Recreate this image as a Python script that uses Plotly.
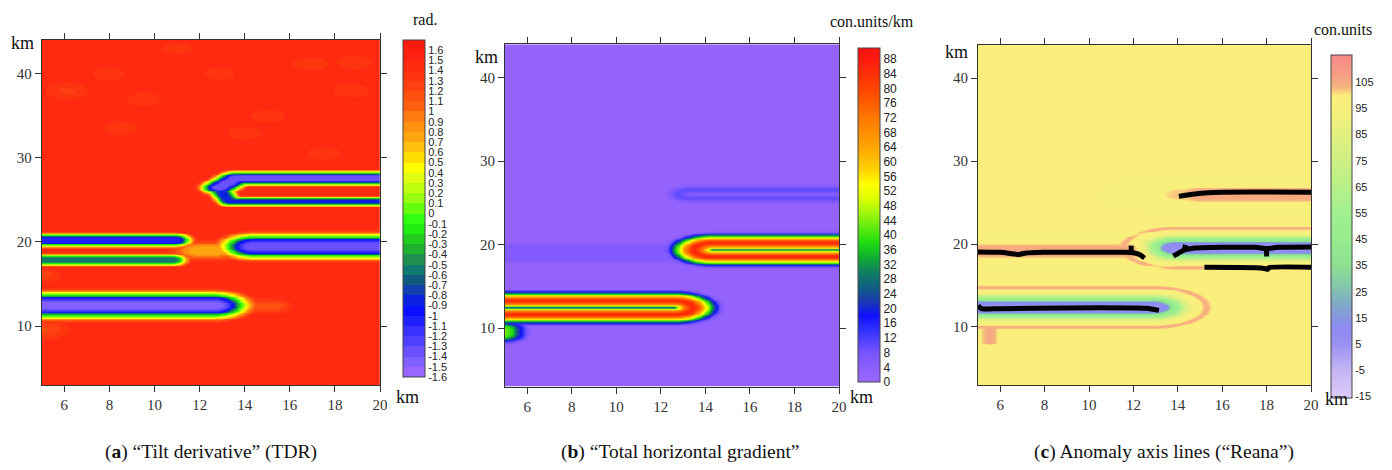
import numpy as np
import plotly.graph_objects as go

W, H = 1392, 470

# ---------------- grid & axes ----------------
X_KM = np.round(np.arange(5.0, 20.0001, 0.1), 2)
Y_KM = np.round(np.arange(3.0, 44.0001, 0.1), 2)
X_TICKS = [6, 8, 10, 12, 14, 16, 18, 20]
Y_TICKS = [10, 20, 30, 40]

# ---------------- panel (a): tilt derivative ----------------
TDR_BG = 1.45
TDR_SHAPE_S = [0, 0.25, 0.4, 0.55, 0.71, 0.86, 1.0]
TDR_SHAPE_F = [1, 0.98, 0.85, 0.6, 0.36, 0.15, 0]
TDR_BAND_X = [[4.0, 12.6], [4.0, 10.85], [4.0, 10.75], [14.4, 21.0],
              [12.85, 13.6, 21.0], [12.85, 13.3, 21.0], [11.9, 12.7], [14.2, 15.2]]
TDR_BAND_Y = [[12.5, 12.5], [20.25, 20.25], [17.9, 17.9], [19.5, 19.5],
              [26.5, 27.6, 27.6], [26.3, 24.85, 24.85], [19.0, 19.0], [12.4, 12.4]]
TDR_BAND_CORE = [-1.45, -1.1, -0.6, -1.35, -1.35, -0.85, 0.75, 1.15]
TDR_BAND_WIDTH = [2.05, 1.05, 0.92, 1.95, 1.1, 0.75, 1.4, 1.1]
TDR_SPOT_X = [6.1, 7.95, 11.0, 12.85, 16.9, 18.85, 18.7, 5.0, 5.0, 8.5, 15.0, 17.5, 9.5, 14.0]
TDR_SPOT_Y = [38.0, 40.0, 43.0, 40.0, 41.2, 41.4, 38.0, 16.1, 9.6, 33.5, 35.0, 30.5, 37.0, 33.0]
TDR_SPOT_CORE = [1.25, 1.3, 1.3, 1.3, 1.3, 1.3, 1.33, 1.2, 1.15, 1.36, 1.36, 1.36, 1.36, 1.36]
TDR_SPOT_WIDTH = [1.2, 1.0, 0.9, 0.9, 1.1, 1.1, 1.2, 1.0, 1.4, 1.4, 1.4, 1.4, 1.4, 1.4]
TDR_CB_TICKS = [1.6, 1.5, 1.4, 1.3, 1.2, 1.1, 1, 0.9, 0.8, 0.7, 0.6, 0.5, 0.4, 0.3, 0.2, 0.1, 0,
                -0.1, -0.2, -0.3, -0.4, -0.5, -0.6, -0.7, -0.8, -0.9, -1, -1.1, -1.2, -1.3,
                -1.4, -1.5, -1.6]
TDR_ZMIN, TDR_ZMAX = -1.6, 1.7
TDR_COLORS = ["#9966ff", "#8060ff", "#6a50ff", "#5040ff", "#3a30ff", "#2020ff", "#0a10ff",
              "#0a20e0", "#1040b0", "#105a80", "#107a70", "#209050", "#20b030", "#20cc20",
              "#20ee10", "#33ff10", "#66ff10", "#99ff10", "#c0ff10", "#e0ff10", "#ffff00",
              "#ffdd00", "#ffc010", "#ffa510", "#ff9010", "#ff7a10", "#ff6010", "#ff5010",
              "#ff4010", "#ff3510", "#ff2a10", "#ff2010", "#ff1a10"]

# ---------------- panel (b): total horizontal gradient ----------------
THG_BG = 1.5
THG_RING_D = [0, 0.1, 0.25, 0.45, 0.8, 1.05, 1.25, 1.4, 1.6, 1.75, 1.9, 2.05, 2.3]
THG_RING_V = [22, 40, 56, 72, 87, 80, 66, 55, 40, 28, 17, 8, 1.5]
THG_RING_X = [[4.0, 12.6], [14.3, 21.0]]
THG_RING_Y = [[12.5, 12.5], [19.42, 19.42]]
THG_BLOB_D = [0, 0.4, 0.7, 1.0, 1.3]
THG_BLOB_V = [45, 38, 22, 10, 1.5]
THG_BLOB_X = [[4.9, 4.9]]
THG_BLOB_Y = [[9.3, 9.9]]
THG_FAINT_D = [0, 0.9, 1.3]
THG_FAINT_V = [6, 6, 1.5]
THG_FAINT_X = [[4.0, 12.3]]
THG_FAINT_Y = [[19.05, 19.05]]
THG_FRING_D = [0, 0.3, 0.6, 0.9, 1.2]
THG_FRING_V = [4, 9, 10, 6, 1.5]
THG_FRING_X = [[13.3, 21.0]]
THG_FRING_Y = [[26.1, 26.1]]
THG_ZMIN, THG_ZMAX = 0, 91
THG_CB_TICKS = list(range(0, 89, 4))
THG_STOPS = [0, 4, 8, 14, 18, 22, 26, 30, 34, 38, 44, 50, 54, 58, 64, 72, 80, 88, 91]
THG_COLORS = ["#9966ff", "#8c5ffd", "#7755ff", "#3333ff", "#1010ff", "#1a3ab0", "#106080",
              "#108060", "#10b030", "#20dd10", "#80f010", "#ddff00", "#ffff00", "#ffd000",
              "#ffa500", "#ff7700", "#ff4400", "#ff1a10", "#ff1010"]

# ---------------- panel (c): anomaly axis lines ----------------
REANA_BG = 97.5
REANA_RING_D = [0, 0.6, 0.8, 1.1, 1.4, 1.7, 1.95, 2.1, 2.25, 2.4, 2.55, 2.75]
REANA_RING_V = [-92, -85, -60, -45, -20, -6, -1, 0, 5, 7, 4, 0]
REANA_RING_X = [[4.0, 12.9], [13.9, 21.0]]
REANA_RING_Y = [[12.4, 12.4], [19.55, 19.55]]
REANA_SALMON_D = [0, 0.5, 0.8, 1.0, 1.6, 2.0, 2.4]
REANA_SALMON_V = [8, 7.5, 4, 0, 0, -3, 0]
REANA_SALMON_X = [[4.0, 12.5], [14.0, 21.0]]
REANA_SALMON_Y = [[19.2, 19.2], [26.0, 26.0]]
REANA_PINK_D = [0, 0.25, 0.5]
REANA_PINK_V = [9, 5, 0]
REANA_PINK_X = [[12.3, 12.7], [5.5, 5.5]]
REANA_PINK_Y = [[19.0, 19.0], [8.2, 9.8]]
REANA_PALE_D = [0, 1.2, 1.8]
REANA_PALE_V = [-4, -3, 0]
REANA_PALE_X = [[12.2, 13.2]]
REANA_PALE_Y = [[26.0, 26.0]]
REANA_ZMIN, REANA_ZMAX = -15.6, 115.4
REANA_CB_TICKS = [-15, -5, 5, 15, 25, 35, 45, 55, 65, 75, 85, 95, 105]
REANA_STOPS = [-15.6, -5, 5, 12, 20, 28, 35, 45, 55, 65, 75, 85, 95, 100, 103, 108, 115.4]
REANA_COLORS = ["#dccdf8", "#c4b4f4", "#9a90f2", "#8c8cf0", "#80a8c8", "#84cca8", "#8de092",
                "#96ec8c", "#a0f090", "#b8f088", "#cdef84", "#e2f080", "#f8f07c", "#fbed7c",
                "#f7b47e", "#f59c84", "#f58a88"]

# anomaly axis lines
LINE1_X = [5.0, 5.15, 6.0, 9.0, 12.0, 12.6, 13.15]
LINE1_Y = [12.55, 12.2, 12.2, 12.3, 12.3, 12.25, 12.0]
LINE2_X = [5.0, 6.0, 6.85, 7.1, 8.0, 10.0, 11.5, 12.0, 12.3, 12.5]
LINE2_Y = [19.05, 19.0, 18.75, 18.9, 19.0, 19.0, 19.0, 18.95, 18.7, 18.3]
LINE2T_X = [11.9, 11.9]
LINE2T_Y = [19.0, 19.8]
LINE3_X = [13.8, 14.0, 14.3, 14.7, 16.0, 17.5, 18.0, 18.5, 20.0]
LINE3_Y = [18.55, 18.85, 19.3, 19.5, 19.6, 19.6, 19.45, 19.6, 19.65]
LINE3T1_X = [18.0, 18.0]
LINE3T1_Y = [19.5, 18.5]
LINE3T2_X = [14.3, 14.35]
LINE3T2_Y = [19.3, 19.9]
LINE4_X = [15.2, 17.5, 17.9, 18.05, 18.1, 20.0]
LINE4_Y = [17.2, 17.15, 17.05, 16.95, 17.15, 17.2]
LINE5_X = [14.05, 14.5, 15.2, 16.0, 20.0]
LINE5_Y = [25.75, 25.95, 26.15, 26.25, 26.25]

GX, GY = np.meshgrid(X_KM, Y_KM)


def poly_dist(xs, ys):
    d = np.full(GX.shape, np.inf)
    for i in range(len(xs) - 1):
        ax, ay, bx, by = xs[i], ys[i], xs[i + 1], ys[i + 1]
        vx, vy = bx - ax, by - ay
        L2 = vx * vx + vy * vy
        t = np.clip(((GX - ax) * vx + (GY - ay) * vy) / L2, 0, 1)
        d = np.minimum(d, np.hypot(GX - ax - t * vx, GY - ay - t * vy))
    return d


# field (a)
za = np.full(GX.shape, TDR_BG)
for xs, ys, c, w in zip(TDR_BAND_X, TDR_BAND_Y, TDR_BAND_CORE, TDR_BAND_WIDTH):
    f = np.interp(poly_dist(xs, ys) / w, TDR_SHAPE_S, TDR_SHAPE_F)
    za = np.minimum(za, TDR_BG + (c - TDR_BG) * f)
for sx, sy, c, w in zip(TDR_SPOT_X, TDR_SPOT_Y, TDR_SPOT_CORE, TDR_SPOT_WIDTH):
    d = np.hypot(GX - sx, GY - sy)
    f = np.interp(d / w, [0, 0.5, 1.0], [1, 0.6, 0])
    za = np.minimum(za, TDR_BG + (c - TDR_BG) * f)

# field (b)
zb = np.full(GX.shape, THG_BG)
for D, V, XS, YS in [(THG_RING_D, THG_RING_V, THG_RING_X, THG_RING_Y),
                     (THG_BLOB_D, THG_BLOB_V, THG_BLOB_X, THG_BLOB_Y),
                     (THG_FAINT_D, THG_FAINT_V, THG_FAINT_X, THG_FAINT_Y),
                     (THG_FRING_D, THG_FRING_V, THG_FRING_X, THG_FRING_Y)]:
    for xs, ys in zip(XS, YS):
        zb = np.maximum(zb, np.interp(poly_dist(xs, ys), D, V))

# field (c)
pos = np.zeros(GX.shape)
neg = np.zeros(GX.shape)
for D, V, XS, YS in [(REANA_RING_D, REANA_RING_V, REANA_RING_X, REANA_RING_Y),
                     (REANA_SALMON_D, REANA_SALMON_V, REANA_SALMON_X, REANA_SALMON_Y),
                     (REANA_PINK_D, REANA_PINK_V, REANA_PINK_X, REANA_PINK_Y),
                     (REANA_PALE_D, REANA_PALE_V, REANA_PALE_X, REANA_PALE_Y)]:
    for xs, ys in zip(XS, YS):
        v = np.interp(poly_dist(xs, ys), D, V)
        pos = np.maximum(pos, v)
        neg = np.minimum(neg, v)
zc = REANA_BG + pos + neg


def stepped(colors):
    n = len(colors)
    cs = []
    for i, c in enumerate(colors):
        cs.append([i / n, c])
        cs.append([(i + 1) / n, c])
    return cs


def smooth(stops, colors):
    lo, hi = stops[0], stops[-1]
    return [[(s - lo) / (hi - lo), c] for s, c in zip(stops, colors)]


def X(px):
    return px / W


def Y(py):
    return 1 - py / H


fig = go.Figure()

CB_COMMON = dict(xanchor="left", yanchor="top", lenmode="pixels", thicknessmode="pixels",
                 xpad=0, ypad=0, outlinewidth=1, outlinecolor="#444", ticks="", ticklen=0)

fig.add_trace(go.Heatmap(
    x=X_KM, y=Y_KM, z=np.round(za, 3), zmin=TDR_ZMIN, zmax=TDR_ZMAX, zsmooth="best",
    colorscale=stepped(TDR_COLORS), xaxis="x", yaxis="y", hoverinfo="skip",
    colorbar=dict(x=X(403), y=Y(40), len=337, thickness=22,
                  tickvals=TDR_CB_TICKS, ticktext=["%g" % v for v in TDR_CB_TICKS],
                  tickfont=dict(family="Liberation Sans", size=11, color="#222"), **CB_COMMON)))

fig.add_trace(go.Heatmap(
    x=X_KM, y=Y_KM, z=np.round(zb, 2), zmin=THG_ZMIN, zmax=THG_ZMAX, zsmooth="best",
    colorscale=smooth(THG_STOPS, THG_COLORS), xaxis="x2", yaxis="y2", hoverinfo="skip",
    colorbar=dict(x=X(858), y=Y(48), len=334, thickness=22,
                  tickvals=THG_CB_TICKS, ticktext=[str(v) for v in THG_CB_TICKS],
                  tickfont=dict(family="Liberation Sans", size=12, color="#222"), **CB_COMMON)))

fig.add_trace(go.Heatmap(
    x=X_KM, y=Y_KM, z=np.round(zc, 2), zmin=REANA_ZMIN, zmax=REANA_ZMAX, zsmooth="best",
    colorscale=smooth(REANA_STOPS, REANA_COLORS), xaxis="x3", yaxis="y3", hoverinfo="skip",
    colorbar=dict(x=X(1331), y=Y(55), len=343, thickness=21,
                  tickvals=REANA_CB_TICKS, ticktext=[str(v) for v in REANA_CB_TICKS],
                  tickfont=dict(family="Liberation Sans", size=11, color="#222"), **CB_COMMON)))

for lx, ly in [(LINE1_X, LINE1_Y), (LINE2_X, LINE2_Y), (LINE2T_X, LINE2T_Y),
               (LINE3_X, LINE3_Y), (LINE3T1_X, LINE3T1_Y), (LINE3T2_X, LINE3T2_Y),
               (LINE4_X, LINE4_Y), (LINE5_X, LINE5_Y)]:
    fig.add_trace(go.Scatter(x=lx, y=ly, mode="lines", xaxis="x3", yaxis="y3",
                             line=dict(color="black", width=5, shape="spline", smoothing=0.6),
                             showlegend=False, hoverinfo="skip"))

AX = dict(showgrid=False, zeroline=False, showline=True, linecolor="#333", linewidth=1,
          mirror="ticks", ticks="outside", ticklen=6, tickcolor="#333",
          tickfont=dict(family="Liberation Serif", size=15, color="#333"))

panels = [  # left, right, top, bottom pixels
    (41.8, 380, 40, 385),
    (505, 839, 44.3, 386.7),
    (978, 1311, 45, 385),
]
layout = dict(width=W, height=H, margin=dict(l=0, r=0, t=0, b=0, autoexpand=False),
              paper_bgcolor="white", plot_bgcolor="white", showlegend=False)
for i, (l, r, t, b) in enumerate(panels):
    sx = "" if i == 0 else str(i + 1)
    layout["xaxis" + sx] = dict(domain=[X(l), X(r)], range=[5, 20], tickvals=X_TICKS,
                                anchor="y" + sx, **AX)
    layout["yaxis" + sx] = dict(domain=[Y(b), Y(t)], range=[3, 44], tickvals=Y_TICKS,
                                anchor="x" + sx, **AX)
fig.update_layout(**layout)

SERIF = "Liberation Serif"
ann = [
    ("km", 22, 43, 18), ("km", 407, 397, 18),
    ("km", 486, 57, 18), ("km", 861, 397, 18),
    ("km", 956, 52, 18), ("km", 1336, 399, 18),
    ("rad.", 425, 20, 16), ("con.units/km", 872, 22, 16), ("con.units", 1343, 30, 16),
    ("(<b>a</b>) \u201cTilt derivative\u201d (TDR)", 211, 452, 19.5),
    ("(<b>b</b>) \u201cTotal horizontal gradient\u201d", 680, 452, 19.5),
    ("(<b>c</b>) Anomaly axis lines (\u201cReana\u201d)", 1164, 452, 19.5),
]
for text, px, py, size in ann:
    fig.add_annotation(text=text, x=X(px), y=Y(py), xref="paper", yref="paper",
                       showarrow=False, xanchor="center", yanchor="middle",
                       font=dict(family=SERIF, size=size, color="#111"))

fig.write_html("out.html", config={"displayModeBar": False},
               post_script="document.body.style.margin='0';document.body.style.overflow='hidden';")
